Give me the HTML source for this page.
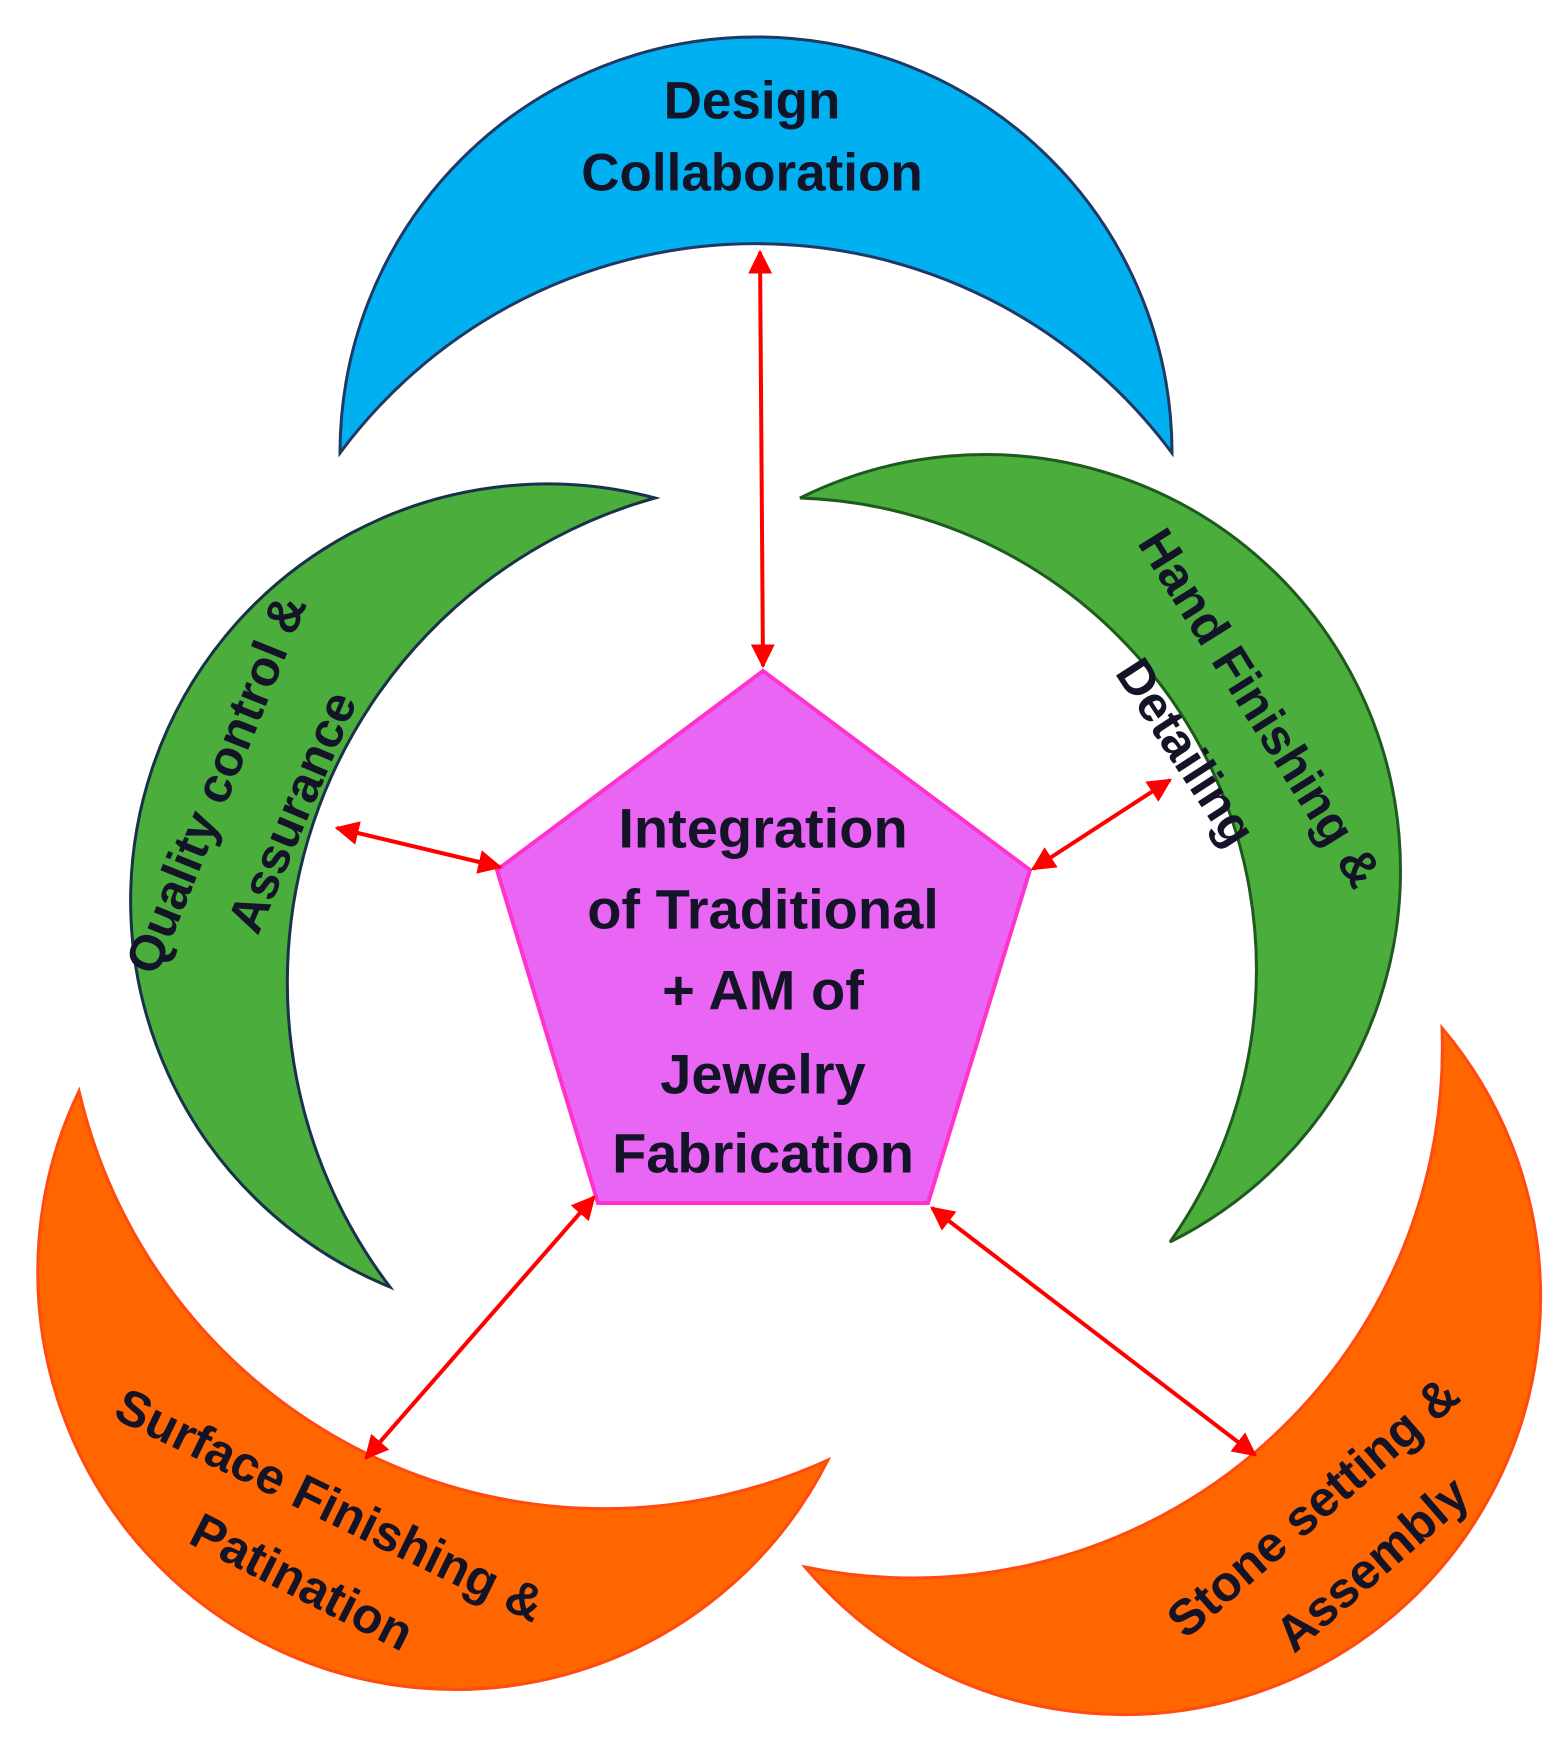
<!DOCTYPE html>
<html><head><meta charset="utf-8"><style>
html,body{margin:0;padding:0;background:#fff;}
svg{display:block;}
text{font-family:"Liberation Sans",sans-serif;font-weight:bold;fill:#141428;}
</style></head><body>
<svg width="1564" height="1754" viewBox="0 0 1564 1754" xmlns="http://www.w3.org/2000/svg">
<defs>
<marker id="ah" viewBox="0 0 10 10" refX="9" refY="5" markerWidth="6" markerHeight="6" orient="auto-start-reverse" markerUnits="strokeWidth">
<path d="M0,0 L10,5 L0,10 z" fill="#ff0000"/></marker>
</defs>
<path d="M340,453 A416,416 0 0 1 1172,453 A518,518 0 0 0 340,453 Z" fill="#00b0f0" stroke="#1f3864" stroke-width="3"/>
<path d="M655,498 A417,417 0 0 0 390,1287 A503,503 0 0 1 655,498 Z" fill="#4aad3c" stroke="#17324a" stroke-width="3"/>
<path d="M800,498 A415,415 0 0 1 1170,1242 A472,472 0 0 0 800,498 Z" fill="#4aad3c" stroke="#1e5a1e" stroke-width="3"/>
<path d="M79,1091 A417.5,417.5 0 0 0 828,1460 A539,539 0 0 1 79,1091 Z" fill="#ff6600" stroke="#ff4a10" stroke-width="3"/>
<path d="M1442,1028 A417.2,417.2 0 0 1 805,1567 A530,530 0 0 0 1442,1028 Z" fill="#ff6600" stroke="#ff4a10" stroke-width="3"/>
<polygon points="763,671 1030,870 928,1203 598,1203 497,870" fill="#e966f5" stroke="#ff33cc" stroke-width="4"/>
<g stroke="#ff0000" stroke-width="4" fill="none">
<line x1="760" y1="252" x2="763" y2="666" marker-start="url(#ah)" marker-end="url(#ah)"/>
<line x1="337" y1="828" x2="500" y2="867" marker-start="url(#ah)" marker-end="url(#ah)"/>
<line x1="1170" y1="780" x2="1033" y2="869" marker-start="url(#ah)" marker-end="url(#ah)"/>
<line x1="594" y1="1197" x2="366" y2="1458" marker-start="url(#ah)" marker-end="url(#ah)"/>
<line x1="932" y1="1208" x2="1255" y2="1455" marker-start="url(#ah)" marker-end="url(#ah)"/>
</g>
<g font-size="53" text-anchor="middle" dominant-baseline="central">
<text x="752" y="101">Design</text>
<text x="752" y="173">Collaboration</text>
</g>
<g font-size="56" text-anchor="middle" dominant-baseline="central">
<text x="763" y="828">Integration</text>
<text x="763" y="909">of Traditional</text>
<text x="763" y="990">+ AM of</text>
<text x="763" y="1074">Jewelry</text>
<text x="763" y="1153">Fabrication</text>
</g>
<g font-size="50" text-anchor="middle" dominant-baseline="central">
<text transform="translate(216,784) rotate(-68)">Quality control &amp;</text>
<text transform="translate(292,812) rotate(-67)">Assurance</text>
<text transform="translate(1260,708) rotate(58)">Hand Finishing &amp;</text>
<text transform="translate(1186,752) rotate(57)">Detailing</text>
<text transform="translate(330,1505) rotate(26)">Surface Finishing &amp;</text>
<text transform="translate(302,1582) rotate(27)">Patination</text>
<text transform="translate(1313,1507) rotate(-41)">Stone setting &amp;</text>
<text transform="translate(1372,1564) rotate(-41)">Assembly</text>
</g>
</svg>
</body></html>
